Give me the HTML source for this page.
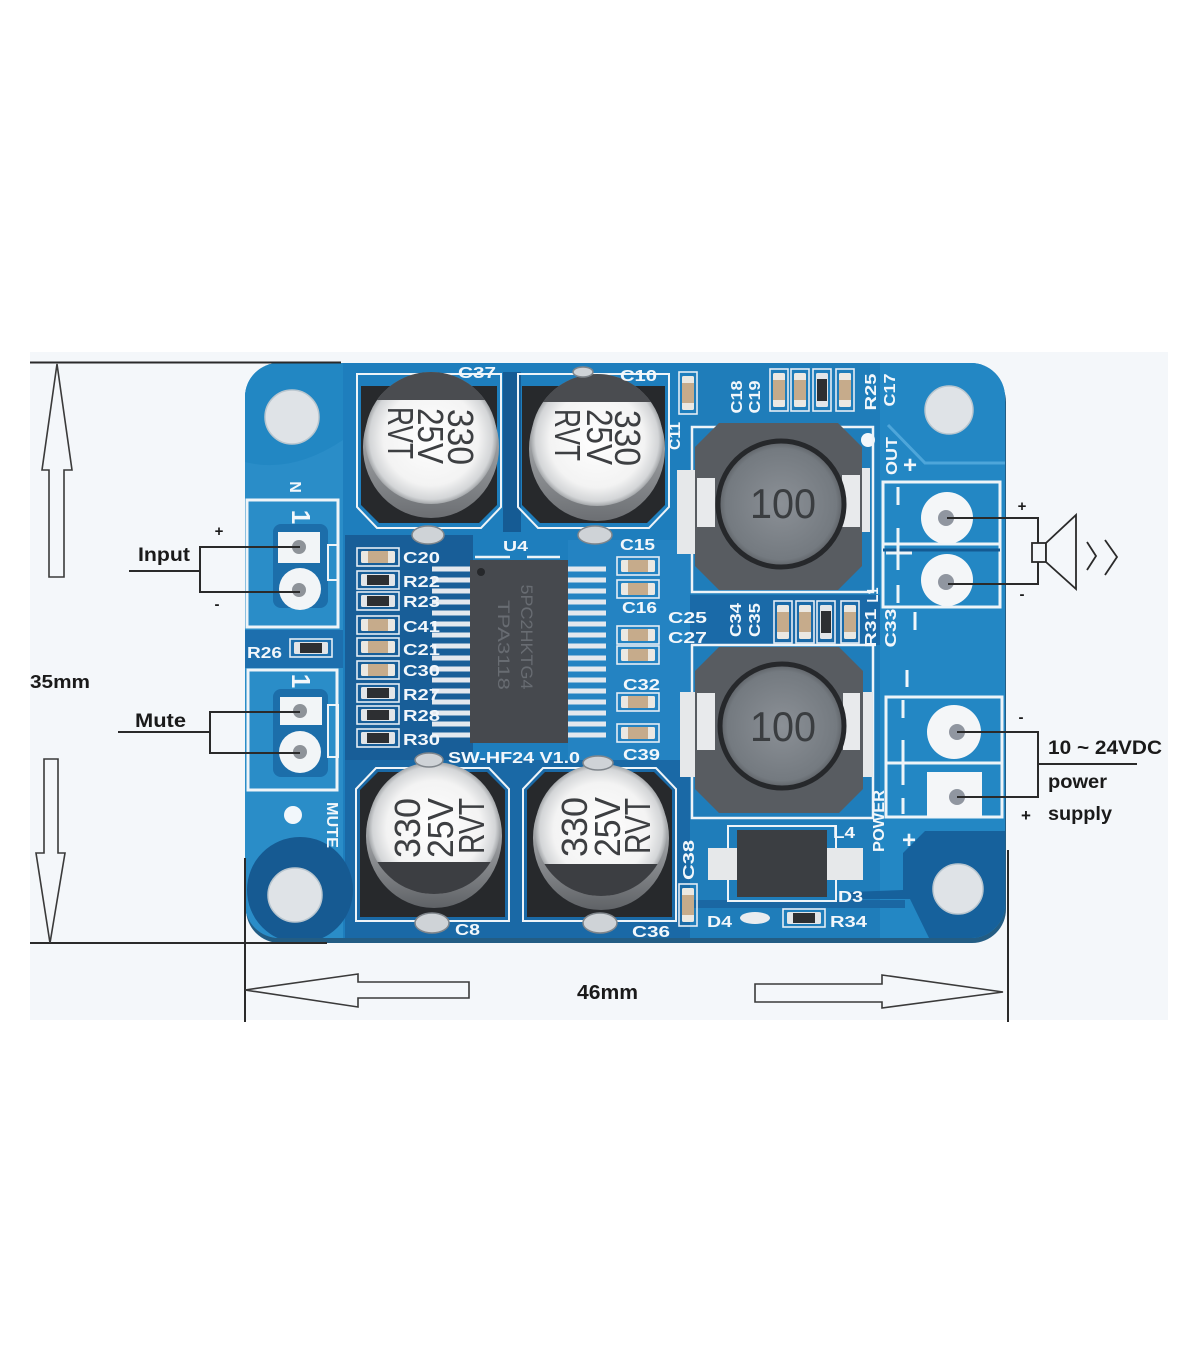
<!DOCTYPE html>
<html><head><meta charset="utf-8"><title>TPA3118 amplifier board</title>
<style>html,body{margin:0;padding:0;background:#fff}svg{display:block}</style>
</head><body>
<svg xmlns="http://www.w3.org/2000/svg" width="1200" height="1372" viewBox="0 0 1200 1372" font-family="'Liberation Sans', sans-serif">
<defs>
<clipPath id="bd"><rect x="245" y="363" width="760" height="575" rx="34"/></clipPath>
<radialGradient id="canTop" cx="0.5" cy="0.5" r="0.5">
<stop offset="0" stop-color="#ffffff"/><stop offset="0.72" stop-color="#f3f3f3"/><stop offset="0.93" stop-color="#d3d5d7"/><stop offset="1" stop-color="#a4a7aa"/>
</radialGradient>
<linearGradient id="canSideT" x1="0" y1="0" x2="0" y2="1">
<stop offset="0" stop-color="#c9cbcd"/><stop offset="1" stop-color="#6c6f73"/>
</linearGradient>
<linearGradient id="canSideB" x1="0" y1="0" x2="0" y2="1">
<stop offset="0" stop-color="#e0e2e4"/><stop offset="1" stop-color="#5f6266"/>
</linearGradient>
<radialGradient id="indC" cx="0.5" cy="0.5" r="0.5"><stop offset="0" stop-color="#8b9096"/><stop offset="0.88" stop-color="#747a80"/><stop offset="1" stop-color="#5c6065"/></radialGradient>
<g id="cH"><rect x="-21" y="-9" width="42" height="18" fill="none" stroke="#e4edf5" stroke-width="1.6"/><rect x="-17" y="-6" width="34" height="12" rx="1.5" fill="#ebe8e2"/><rect x="-10" y="-6" width="20" height="12" fill="#c6ab8b"/></g>
<g id="rH"><rect x="-21" y="-9" width="42" height="18" fill="none" stroke="#e4edf5" stroke-width="1.6"/><rect x="-17" y="-6" width="34" height="12" rx="1.5" fill="#e2e5e8"/><rect x="-11" y="-5" width="22" height="10" fill="#2d2f32"/></g>
</defs>

<!-- photo background -->
<rect x="30" y="352" width="1138" height="668" fill="#f4f7fa"/>

<!-- board edge / shadow -->
<rect x="246" y="368" width="760" height="575" rx="34" fill="#235d84"/>

<g clip-path="url(#bd)">
<rect x="245" y="363" width="760" height="575" fill="#1e7ebd"/>
<!-- left strip -->
<rect x="245" y="363" width="98" height="575" fill="#2a8dc8"/>
<path d="M245 462 Q292 474 343 440 L343 363 L245 363 Z" fill="#2287c3"/>
<rect x="245" y="630" width="98" height="38" fill="#1d6fae"/>
<!-- dark centre zone -->
<rect x="345" y="535" width="128" height="225" fill="#185e98"/>
<rect x="568" y="540" width="122" height="220" fill="#2483c2"/>
<rect x="503" y="372" width="18" height="160" fill="#155b94"/>
<rect x="345" y="760" width="345" height="180" fill="#1a69a6"/>
<rect x="690" y="363" width="190" height="575" fill="#1f7dba"/>
<rect x="690" y="595" width="190" height="50" fill="#1a6aa8"/>
<rect x="880" y="363" width="125" height="575" fill="#2387c4"/>
<path d="M888 425 L925 463 L1005 463" fill="none" stroke="#4ea6da" stroke-width="3"/>
<!-- hole pads -->
<circle cx="300" cy="890" r="53" fill="#165a92"/>
<polygon points="1005,831 925,831 903,853 903,890 850,892 850,899 910,899 930,940 1005,940" fill="#16619c"/>
<rect x="690" y="900" width="215" height="8" fill="#1a67a3"/>
</g>

<!-- mounting holes -->
<circle cx="292" cy="417" r="27" fill="#dfe3e7" stroke="#b9c6cf" stroke-width="1.5"/>
<circle cx="949" cy="410" r="24" fill="#dfe3e7" stroke="#b9c6cf" stroke-width="1.5"/>
<circle cx="295" cy="895" r="27" fill="#dfe3e7" stroke="#b9c6cf" stroke-width="1.5"/>
<circle cx="958" cy="889" r="25" fill="#dfe3e7" stroke="#b9c6cf" stroke-width="1.5"/>

<!-- LEFT TERMINALS -->
<rect x="247" y="500" width="91" height="127" fill="none" stroke="#eef4f8" stroke-width="3"/>
<rect x="273" y="524" width="55" height="84" rx="8" fill="#1c6eaa"/>
<rect x="328" y="545" width="10" height="35" fill="none" stroke="#eef4f8" stroke-width="2"/>
<rect x="278" y="532" width="42" height="31" fill="#f2f5f7"/>
<circle cx="300" cy="589" r="21" fill="#f2f5f7"/>
<circle cx="299" cy="547" r="7" fill="#8e9399"/>
<circle cx="299" cy="590" r="7" fill="#8e9399"/>

<rect x="248" y="670" width="89" height="120" fill="none" stroke="#eef4f8" stroke-width="3"/>
<rect x="273" y="689" width="55" height="88" rx="8" fill="#1c6eaa"/>
<rect x="328" y="705" width="10" height="52" fill="none" stroke="#eef4f8" stroke-width="2"/>
<rect x="280" y="697" width="42" height="28" fill="#f2f5f7"/>
<circle cx="300" cy="752" r="21" fill="#f2f5f7"/>
<circle cx="300" cy="711" r="7" fill="#8e9399"/>
<circle cx="300" cy="752" r="7" fill="#8e9399"/>

<g fill="#f2f7fb" font-weight="bold">
<g transform="translate(301,517) rotate(90)"><text x="0" y="9" font-size="26" text-anchor="middle">1</text></g>
<g transform="translate(301,681) rotate(90)"><text x="0" y="9" font-size="26" text-anchor="middle">1</text></g>
<g transform="translate(296,487) rotate(90)"><text x="0" y="6" font-size="16" text-anchor="middle">N</text></g>
<g transform="translate(333,825) rotate(90)"><text x="0" y="6" font-size="16" text-anchor="middle" textLength="46" lengthAdjust="spacingAndGlyphs">MUTE</text></g>
</g>
<circle cx="293" cy="815" r="9" fill="#f2f7fb"/>
<circle cx="868" cy="440" r="7" fill="#f2f7fb"/>

<!-- RIGHT TERMINALS -->
<rect x="883" y="482" width="117" height="125" fill="none" stroke="#eef4f8" stroke-width="3"/>
<line x1="883" y1="544" x2="1000" y2="544" stroke="#eef4f8" stroke-width="3"/>
<line x1="883" y1="550" x2="1000" y2="550" stroke="#145a92" stroke-width="3"/>
<g stroke="#eef4f8" stroke-width="3">
<line x1="898" y1="487" x2="898" y2="505"/><line x1="898" y1="528" x2="898" y2="570"/><line x1="898" y1="585" x2="898" y2="603"/>
<line x1="886" y1="553" x2="912" y2="553"/>
</g>
<circle cx="947" cy="518" r="26" fill="#f4f6f8"/>
<circle cx="947" cy="580" r="26" fill="#f4f6f8"/>
<circle cx="946" cy="518" r="8" fill="#9096a0"/>
<circle cx="946" cy="582" r="8" fill="#9096a0"/>

<rect x="886" y="697" width="116" height="120" fill="none" stroke="#eef4f8" stroke-width="3"/>
<line x1="886" y1="763" x2="1002" y2="763" stroke="#eef4f8" stroke-width="3"/>
<g stroke="#eef4f8" stroke-width="3">
<line x1="903" y1="700" x2="903" y2="718"/><line x1="903" y1="740" x2="903" y2="785"/><line x1="903" y1="798" x2="903" y2="814"/>
</g>
<circle cx="954" cy="732" r="27" fill="#f4f6f8"/>
<rect x="927" y="772" width="55" height="45" fill="#f4f6f8"/>
<circle cx="957" cy="732" r="8" fill="#9096a0"/>
<circle cx="957" cy="797" r="8" fill="#9096a0"/>

<!-- TOP CAPS -->
<polygon points="357,374 501,374 501,507 481,528 377,528 357,507" fill="none" stroke="#eef4f8" stroke-width="2"/>
<polygon points="361,386 497,386 497,505 479,523 379,523 361,505" fill="#27292c"/>
<ellipse cx="431" cy="447" rx="68" ry="71" fill="url(#canSideT)"/>
<circle cx="431" cy="438" r="66" fill="url(#canTop)"/>
<path d="M377 400 A66 66 0 0 1 485 400 Z" fill="#4a4c50"/>

<polygon points="518,374 669,374 669,507 649,528 538,528 518,507" fill="none" stroke="#eef4f8" stroke-width="2"/>
<polygon points="522,386 665,386 665,505 647,523 540,523 522,505" fill="#27292c"/>
<ellipse cx="597" cy="449" rx="68" ry="72" fill="url(#canSideT)"/>
<circle cx="597" cy="440" r="66" fill="url(#canTop)"/>
<path d="M543 402 A66 66 0 0 1 651 402 Z" fill="#4a4c50"/>

<!-- BOTTOM CAPS -->
<polygon points="356,789 376,768 489,768 509,789 509,921 356,921" fill="none" stroke="#eef4f8" stroke-width="2"/>
<polygon points="360,790 378,772 487,772 505,790 505,917 360,917" fill="#27292c"/>
<ellipse cx="434" cy="836" rx="68" ry="72" fill="url(#canSideB)"/>
<circle cx="434" cy="828" r="66" fill="url(#canTop)"/>
<path d="M377.4 862 A66 66 0 0 0 490.6 862 Z" fill="#3c3e42"/>

<polygon points="523,789 543,768 656,768 676,789 676,921 523,921" fill="none" stroke="#eef4f8" stroke-width="2"/>
<polygon points="527,790 545,772 654,772 672,790 672,917 527,917" fill="#27292c"/>
<ellipse cx="601" cy="838" rx="68" ry="72" fill="url(#canSideB)"/>
<circle cx="601" cy="830" r="66" fill="url(#canTop)"/>
<path d="M544.4 864 A66 66 0 0 0 657.6 864 Z" fill="#3c3e42"/>

<!-- cap text -->
<g fill="#3d3f42" font-size="36">
<g transform="translate(461,437) rotate(90)"><text y="13" text-anchor="middle" textLength="56" lengthAdjust="spacingAndGlyphs">330</text></g>
<g transform="translate(431,436) rotate(90)"><text y="13" text-anchor="middle" textLength="56" lengthAdjust="spacingAndGlyphs">25V</text></g>
<g transform="translate(401,433) rotate(90)"><text y="13" text-anchor="middle" textLength="52" lengthAdjust="spacingAndGlyphs">RVT</text></g>
<g transform="translate(628,438) rotate(90)"><text y="13" text-anchor="middle" textLength="56" lengthAdjust="spacingAndGlyphs">330</text></g>
<g transform="translate(600,437) rotate(90)"><text y="13" text-anchor="middle" textLength="56" lengthAdjust="spacingAndGlyphs">25V</text></g>
<g transform="translate(568,435) rotate(90)"><text y="13" text-anchor="middle" textLength="52" lengthAdjust="spacingAndGlyphs">RVT</text></g>
<g transform="translate(407,828) rotate(-90)"><text y="13" text-anchor="middle" textLength="60" lengthAdjust="spacingAndGlyphs">330</text></g>
<g transform="translate(440,828) rotate(-90)"><text y="13" text-anchor="middle" textLength="60" lengthAdjust="spacingAndGlyphs">25V</text></g>
<g transform="translate(471,826) rotate(-90)"><text y="13" text-anchor="middle" textLength="56" lengthAdjust="spacingAndGlyphs">RVT</text></g>
<g transform="translate(574,827) rotate(-90)"><text y="13" text-anchor="middle" textLength="60" lengthAdjust="spacingAndGlyphs">330</text></g>
<g transform="translate(607,827) rotate(-90)"><text y="13" text-anchor="middle" textLength="60" lengthAdjust="spacingAndGlyphs">25V</text></g>
<g transform="translate(637,826) rotate(-90)"><text y="13" text-anchor="middle" textLength="56" lengthAdjust="spacingAndGlyphs">RVT</text></g>
</g>

<!-- solder blobs -->
<g fill="#cfd3d7" stroke="#7f858b" stroke-width="1.5">
<ellipse cx="428" cy="535" rx="16" ry="9"/>
<ellipse cx="595" cy="535" rx="17" ry="9"/>
<ellipse cx="432" cy="923" rx="17" ry="10"/>
<ellipse cx="600" cy="923" rx="17" ry="10"/>
<ellipse cx="429" cy="760" rx="14" ry="7"/>
<ellipse cx="598" cy="763" rx="15" ry="7"/>
<ellipse cx="583" cy="372" rx="10" ry="5"/>
</g>

<!-- IC U4 -->
<g fill="#e3e8ee">
<rect x="432" y="566.5" width="40" height="5"/><rect x="432" y="577.5" width="40" height="5"/><rect x="432" y="588.5" width="40" height="5"/><rect x="432" y="599.5" width="40" height="5"/>
<rect x="432" y="610.5" width="40" height="5"/><rect x="432" y="621.5" width="40" height="5"/><rect x="432" y="632.5" width="40" height="5"/><rect x="432" y="643.5" width="40" height="5"/>
<rect x="432" y="655.5" width="40" height="5"/><rect x="432" y="666.5" width="40" height="5"/><rect x="432" y="677.5" width="40" height="5"/><rect x="432" y="688.5" width="40" height="5"/>
<rect x="432" y="699.5" width="40" height="5"/><rect x="432" y="710.5" width="40" height="5"/><rect x="432" y="721.5" width="40" height="5"/><rect x="432" y="732.5" width="40" height="5"/>
<rect x="566" y="566.5" width="40" height="5"/><rect x="566" y="577.5" width="40" height="5"/><rect x="566" y="588.5" width="40" height="5"/><rect x="566" y="599.5" width="40" height="5"/>
<rect x="566" y="610.5" width="40" height="5"/><rect x="566" y="621.5" width="40" height="5"/><rect x="566" y="632.5" width="40" height="5"/><rect x="566" y="643.5" width="40" height="5"/>
<rect x="566" y="655.5" width="40" height="5"/><rect x="566" y="666.5" width="40" height="5"/><rect x="566" y="677.5" width="40" height="5"/><rect x="566" y="688.5" width="40" height="5"/>
<rect x="566" y="699.5" width="40" height="5"/><rect x="566" y="710.5" width="40" height="5"/><rect x="566" y="721.5" width="40" height="5"/><rect x="566" y="732.5" width="40" height="5"/>
</g>
<rect x="470" y="560" width="98" height="183" fill="#46494e"/>
<circle cx="481" cy="572" r="4" fill="#26282b"/>
<line x1="475" y1="557" x2="510" y2="557" stroke="#eef4f8" stroke-width="2.5"/>
<line x1="527" y1="557" x2="560" y2="557" stroke="#eef4f8" stroke-width="2.5"/>
<g fill="#686c72" font-size="17">
<g transform="translate(527,637) rotate(90)"><text y="6" text-anchor="middle" textLength="105" lengthAdjust="spacingAndGlyphs">5PC2HKTG4</text></g>
<g transform="translate(504,645) rotate(90)"><text y="6" text-anchor="middle" textLength="90" lengthAdjust="spacingAndGlyphs">TPA3118</text></g>
</g>

<!-- SMD parts -->
<use href="#cH" x="378" y="557"/>
<use href="#rH" x="378" y="580"/>
<use href="#rH" x="378" y="601"/>
<use href="#cH" x="378" y="625"/>
<use href="#cH" x="378" y="647"/>
<use href="#cH" x="378" y="670"/>
<use href="#rH" x="378" y="693"/>
<use href="#rH" x="378" y="715"/>
<use href="#rH" x="378" y="738"/>
<use href="#rH" x="311" y="648"/>
<use href="#cH" x="638" y="566"/>
<use href="#cH" x="638" y="589"/>
<use href="#cH" x="638" y="635"/>
<use href="#cH" x="638" y="655"/>
<use href="#cH" x="638" y="702"/>
<use href="#cH" x="638" y="733"/>
<use href="#cH" transform="translate(688,393) rotate(90)"/>
<use href="#cH" transform="translate(779,390) rotate(90)"/>
<use href="#cH" transform="translate(800,390) rotate(90)"/>
<use href="#rH" transform="translate(822,390) rotate(90)"/>
<use href="#cH" transform="translate(845,390) rotate(90)"/>
<use href="#cH" transform="translate(783,622) rotate(90)"/>
<use href="#cH" transform="translate(805,622) rotate(90)"/>
<use href="#rH" transform="translate(826,622) rotate(90)"/>
<use href="#cH" transform="translate(850,622) rotate(90)"/>
<use href="#cH" transform="translate(688,905) rotate(90)"/>
<use href="#rH" x="804" y="918"/>
<ellipse cx="755" cy="918" rx="15" ry="6" fill="#e9ecef"/>

<!-- INDUCTORS -->
<rect x="692" y="427" width="181" height="165" fill="none" stroke="#eef4f8" stroke-width="2.5"/>
<rect x="677" y="470" width="40" height="84" fill="#e6e8ea"/>
<rect x="842" y="468" width="28" height="64" fill="#e6e8ea"/>
<polygon points="719,423 838,423 862,447 862,566 838,590 719,590 695,566 695,447" fill="#585c61"/>
<rect x="697" y="478" width="18" height="49" fill="#e8eaec"/>
<rect x="842" y="475" width="18" height="52" fill="#e8eaec"/>
<circle cx="781" cy="504" r="63" fill="url(#indC)" stroke="#26282b" stroke-width="5"/>
<text x="783" y="518" font-size="42" fill="#3a3d40" text-anchor="middle" textLength="66" lengthAdjust="spacingAndGlyphs">100</text>

<rect x="692" y="645" width="181" height="173" fill="none" stroke="#eef4f8" stroke-width="2.5"/>
<rect x="680" y="692" width="37" height="85" fill="#e6e8ea"/>
<rect x="845" y="692" width="28" height="85" fill="#e6e8ea"/>
<polygon points="719,647 839,647 863,671 863,789 839,813 719,813 695,789 695,671" fill="#585c61"/>
<rect x="697" y="693" width="18" height="57" fill="#e8eaec"/>
<rect x="843" y="693" width="17" height="57" fill="#e8eaec"/>
<circle cx="782" cy="726" r="62" fill="url(#indC)" stroke="#26282b" stroke-width="5"/>
<text x="783" y="741" font-size="42" fill="#3a3d40" text-anchor="middle" textLength="66" lengthAdjust="spacingAndGlyphs">100</text>

<!-- DIODE -->
<rect x="728" y="826" width="108" height="75" fill="none" stroke="#eef4f8" stroke-width="2"/>
<rect x="708" y="848" width="32" height="32" fill="#e6e8ea"/>
<rect x="825" y="848" width="38" height="32" fill="#e6e8ea"/>
<rect x="737" y="830" width="90" height="67" fill="#3b3e42"/>

<!-- SILKSCREEN LABELS -->
<g fill="#f2f7fb" font-weight="bold" font-size="16">
<text x="458" y="378" textLength="38" lengthAdjust="spacingAndGlyphs">C37</text>
<text x="620" y="381" textLength="37" lengthAdjust="spacingAndGlyphs">C10</text>
<text x="503" y="551" font-size="15" textLength="25" lengthAdjust="spacingAndGlyphs">U4</text>
<text x="403" y="563" textLength="37" lengthAdjust="spacingAndGlyphs">C20</text>
<text x="403" y="587" textLength="37" lengthAdjust="spacingAndGlyphs">R22</text>
<text x="403" y="607" textLength="37" lengthAdjust="spacingAndGlyphs">R23</text>
<text x="403" y="632" textLength="37" lengthAdjust="spacingAndGlyphs">C41</text>
<text x="403" y="655" textLength="37" lengthAdjust="spacingAndGlyphs">C21</text>
<text x="403" y="676" textLength="37" lengthAdjust="spacingAndGlyphs">C30</text>
<text x="403" y="700" textLength="37" lengthAdjust="spacingAndGlyphs">R27</text>
<text x="403" y="721" textLength="37" lengthAdjust="spacingAndGlyphs">R28</text>
<text x="403" y="745" textLength="37" lengthAdjust="spacingAndGlyphs">R30</text>
<text x="247" y="658" textLength="35" lengthAdjust="spacingAndGlyphs">R26</text>
<text x="620" y="550" textLength="35" lengthAdjust="spacingAndGlyphs">C15</text>
<text x="622" y="613" textLength="35" lengthAdjust="spacingAndGlyphs">C16</text>
<text x="668" y="623" textLength="39" lengthAdjust="spacingAndGlyphs">C25</text>
<text x="668" y="643" textLength="39" lengthAdjust="spacingAndGlyphs">C27</text>
<text x="623" y="690" textLength="37" lengthAdjust="spacingAndGlyphs">C32</text>
<text x="623" y="760" textLength="37" lengthAdjust="spacingAndGlyphs">C39</text>
<text x="448" y="763" textLength="132" lengthAdjust="spacingAndGlyphs">SW-HF24 V1.0</text>
<text x="455" y="935" textLength="25" lengthAdjust="spacingAndGlyphs">C8</text>
<text x="632" y="937" textLength="38" lengthAdjust="spacingAndGlyphs">C36</text>
<text x="707" y="927" textLength="25" lengthAdjust="spacingAndGlyphs">D4</text>
<text x="830" y="927" textLength="37" lengthAdjust="spacingAndGlyphs">R34</text>
<text x="838" y="902" textLength="25" lengthAdjust="spacingAndGlyphs">D3</text>
<text x="833" y="838" textLength="22" lengthAdjust="spacingAndGlyphs">L4</text>
<g transform="translate(688,860) rotate(-90)"><text y="6" text-anchor="middle" textLength="40" lengthAdjust="spacingAndGlyphs">C38</text></g>
<g transform="translate(736,397) rotate(-90)"><text y="6" text-anchor="middle" textLength="33" lengthAdjust="spacingAndGlyphs">C18</text></g>
<g transform="translate(754,397) rotate(-90)"><text y="6" text-anchor="middle" textLength="33" lengthAdjust="spacingAndGlyphs">C19</text></g>
<g transform="translate(870,392) rotate(-90)"><text y="6" text-anchor="middle" textLength="37" lengthAdjust="spacingAndGlyphs">R25</text></g>
<g transform="translate(889,390) rotate(-90)"><text y="6" text-anchor="middle" textLength="33" lengthAdjust="spacingAndGlyphs">C17</text></g>
<g transform="translate(674,436) rotate(-90)"><text y="6" text-anchor="middle" textLength="28" lengthAdjust="spacingAndGlyphs">C11</text></g>
<g transform="translate(735,620) rotate(-90)"><text y="6" text-anchor="middle" textLength="34" lengthAdjust="spacingAndGlyphs">C34</text></g>
<g transform="translate(754,620) rotate(-90)"><text y="6" text-anchor="middle" textLength="34" lengthAdjust="spacingAndGlyphs">C35</text></g>
<g transform="translate(870,628) rotate(-90)"><text y="6" text-anchor="middle" textLength="39" lengthAdjust="spacingAndGlyphs">R31</text></g>
<g transform="translate(890,628) rotate(-90)"><text y="6" text-anchor="middle" textLength="39" lengthAdjust="spacingAndGlyphs">C33</text></g>
<g transform="translate(872,595) rotate(-90)"><text y="6" text-anchor="middle" textLength="15" lengthAdjust="spacingAndGlyphs">L1</text></g>
<g transform="translate(891,456) rotate(-90)"><text y="6" text-anchor="middle" textLength="38" lengthAdjust="spacingAndGlyphs">OUT</text></g>
<g transform="translate(878,821) rotate(-90)"><text y="6" text-anchor="middle" textLength="62" lengthAdjust="spacingAndGlyphs">POWER</text></g>
<text x="910" y="473" font-size="24" text-anchor="middle">+</text>
<text x="909" y="848" font-size="24" text-anchor="middle">+</text>
</g>
<line x1="915" y1="612" x2="915" y2="630" stroke="#f2f7fb" stroke-width="3"/>
<line x1="907" y1="670" x2="907" y2="687" stroke="#f2f7fb" stroke-width="3"/>

<!-- ANNOTATIONS -->
<g fill="none" stroke="#2a2a2a" stroke-width="2">
<line x1="30" y1="362.5" x2="341" y2="362.5"/>
<line x1="30" y1="943" x2="327" y2="943"/>
<line x1="245" y1="858" x2="245" y2="1022"/>
<line x1="1008" y1="850" x2="1008" y2="1022"/>
<polyline points="129,571 200,571"/>
<polyline points="300,547 200,547 200,592 300,592"/>
<polyline points="118,732 210,732"/>
<polyline points="300,712 210,712 210,753 300,753"/>
<polyline points="947,518 1038,518 1038,584 948,584"/>
<polyline points="957,732 1038,732 1038,797 957,797"/>
<line x1="1038" y1="764" x2="1137" y2="764"/>
</g>
<g fill="none" stroke="#3a3a3a" stroke-width="1.6">
<polygon points="57,364 72,470 64,470 64,577 49,577 49,470 42,470"/>
<polygon points="44,759 58,759 58,853 65,853 50,943 36,853 44,853"/>
<polygon points="245,990 358,974 358,982 469,982 469,998 358,998 358,1007"/>
<polygon points="755,984 882,984 882,975 1003,992 882,1008 882,1002 755,1002"/>
</g>
<!-- speaker -->
<g fill="none" stroke="#2a2a2a" stroke-width="1.8">
<rect x="1032" y="543" width="14" height="19" fill="#f4f7fa"/>
<polygon points="1046,543 1076,515 1076,589 1046,562" fill="#f4f7fa"/>
<polyline points="1087,542 1096,556 1087,570"/>
<polyline points="1105,540 1117,557 1105,575"/>
</g>

<g fill="#1a1a1a" font-weight="bold">
<text x="30" y="688" font-size="18" textLength="60" lengthAdjust="spacingAndGlyphs">35mm</text>
<text x="138" y="561" font-size="19" textLength="52" lengthAdjust="spacingAndGlyphs">Input</text>
<text x="135" y="727" font-size="19" textLength="51" lengthAdjust="spacingAndGlyphs">Mute</text>
<text x="577" y="999" font-size="20" textLength="61" lengthAdjust="spacingAndGlyphs">46mm</text>
<text x="1048" y="754" font-size="19" textLength="114" lengthAdjust="spacingAndGlyphs">10 ~ 24VDC</text>
<text x="1048" y="788" font-size="19" textLength="59" lengthAdjust="spacingAndGlyphs">power</text>
<text x="1048" y="820" font-size="19" textLength="64" lengthAdjust="spacingAndGlyphs">supply</text>
<text x="219" y="536" font-size="15" text-anchor="middle">+</text>
<text x="217" y="609" font-size="15" text-anchor="middle">-</text>
<text x="1022" y="511" font-size="15" text-anchor="middle">+</text>
<text x="1022" y="599" font-size="15" text-anchor="middle">-</text>
<text x="1021" y="722" font-size="15" text-anchor="middle">-</text>
<text x="1026" y="821" font-size="17" text-anchor="middle">+</text>
</g>
</svg>
</body></html>
